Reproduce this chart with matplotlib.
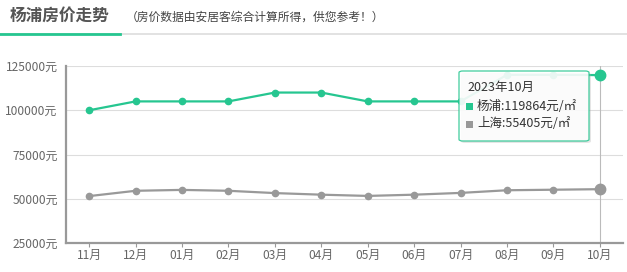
import matplotlib.pyplot as plt
from matplotlib.patches import FancyBboxPatch, Rectangle
from matplotlib.lines import Line2D

plt.rcParams['font.family'] = ['Noto Sans CJK SC', 'DejaVu Sans']

months = ['11月', '12月', '01月', '02月', '03月', '04月', '05月', '06月', '07月', '08月', '09月', '10月']
yangpu = [100000, 105000, 105000, 105000, 110000, 110000, 105000, 105000, 105000, 120000, 120000, 119864]
shanghai = [51500, 54500, 55000, 54500, 53200, 52300, 51600, 52300, 53300, 54800, 55100, 55405]
yticks = [25000, 50000, 75000, 100000, 125000]

GREEN = '#26c690'
GRAY = '#999999'
W, H = 627, 272


def fx(px):
    return px / W


def fy(py):
    return 1 - py / H


fig = plt.figure(figsize=(W / 100, H / 100), dpi=100)
ax = fig.add_axes([fx(66), fy(243), fx(623) - fx(66), fy(66) - fy(243)])

x = list(range(len(months)))
ax.plot(x, yangpu, color=GREEN, lw=1.6, marker='o', ms=4.5, zorder=3)
ax.plot(x, shanghai, color=GRAY, lw=1.6, marker='o', ms=4.5, zorder=3)
ax.plot(x[-1], yangpu[-1], 'o', color=GREEN, ms=7.5, zorder=4)
ax.plot(x[-1], shanghai[-1], 'o', color=GRAY, ms=7.5, zorder=4)
ax.axvline(x[-1], color='#bbbbbb', lw=0.8, zorder=1)

ax.set_xlim(-0.5, 11.5)
ax.set_ylim(25000, 125000)
ax.set_xticks(x)
ax.set_xticklabels(months)
ax.set_yticks(yticks)
ax.set_yticklabels([f'{v}元' for v in yticks])
ax.grid(axis='y', color='#dddddd', lw=0.8)
ax.set_axisbelow(True)
for s in ['top', 'right']:
    ax.spines[s].set_visible(False)
for s in ['left', 'bottom']:
    ax.spines[s].set_color(GRAY)
    ax.spines[s].set_linewidth(1.6)
ax.tick_params(axis='y', length=0, pad=6, labelsize=8.6, labelcolor='#666666')
ax.tick_params(axis='x', length=3, color=GRAY, pad=1.5, labelsize=8.6, labelcolor='#666666')

# header
fig.text(fx(10), fy(16), '杨浦房价走势', fontsize=12, fontweight='bold', color='#555555', va='center')
fig.text(fx(126), fy(17), '（房价数据由安居客综合计算所得，供您参考！）', fontsize=8.5, color='#444444', va='center')
fig.add_artist(Line2D([0, 1], [fy(34), fy(34)], color='#dddddd', lw=1.2, transform=fig.transFigure))
fig.add_artist(Line2D([0, fx(120)], [fy(34), fy(34)], color=GREEN, lw=2, transform=fig.transFigure))

# tooltip
fig.add_artist(FancyBboxPatch((fx(461), fy(143)), fx(130), fy(71) - fy(141),
                              boxstyle='round,pad=0,rounding_size=0.006', transform=fig.transFigure,
                              facecolor='#aaaaaa', edgecolor='none', alpha=0.3, zorder=9))
fig.add_artist(FancyBboxPatch((fx(459), fy(141)), fx(130), fy(71) - fy(141),
                              boxstyle='round,pad=0,rounding_size=0.006', transform=fig.transFigure,
                              facecolor='white', edgecolor=GREEN, lw=0.9, alpha=0.88, zorder=10))
fig.text(fx(467), fy(87), '2023年10月', fontsize=9, color='#333333', va='center', zorder=11)
fig.add_artist(Rectangle((fx(466), fy(110)), fx(7), fy(0) - fy(7), transform=fig.transFigure,
                         facecolor=GREEN, edgecolor='none', zorder=11))
fig.add_artist(Rectangle((fx(466), fy(128)), fx(7), fy(0) - fy(7), transform=fig.transFigure,
                         facecolor=GRAY, edgecolor='none', zorder=11))
fig.text(fx(477), fy(106), f'杨浦:{yangpu[-1]}元/㎡', fontsize=9, color='#333333', va='center', zorder=11)
fig.text(fx(477), fy(124), f'上海:{shanghai[-1]}元/㎡', fontsize=9, color='#333333', va='center', zorder=11)

fig.savefig('out.png', dpi=100)
